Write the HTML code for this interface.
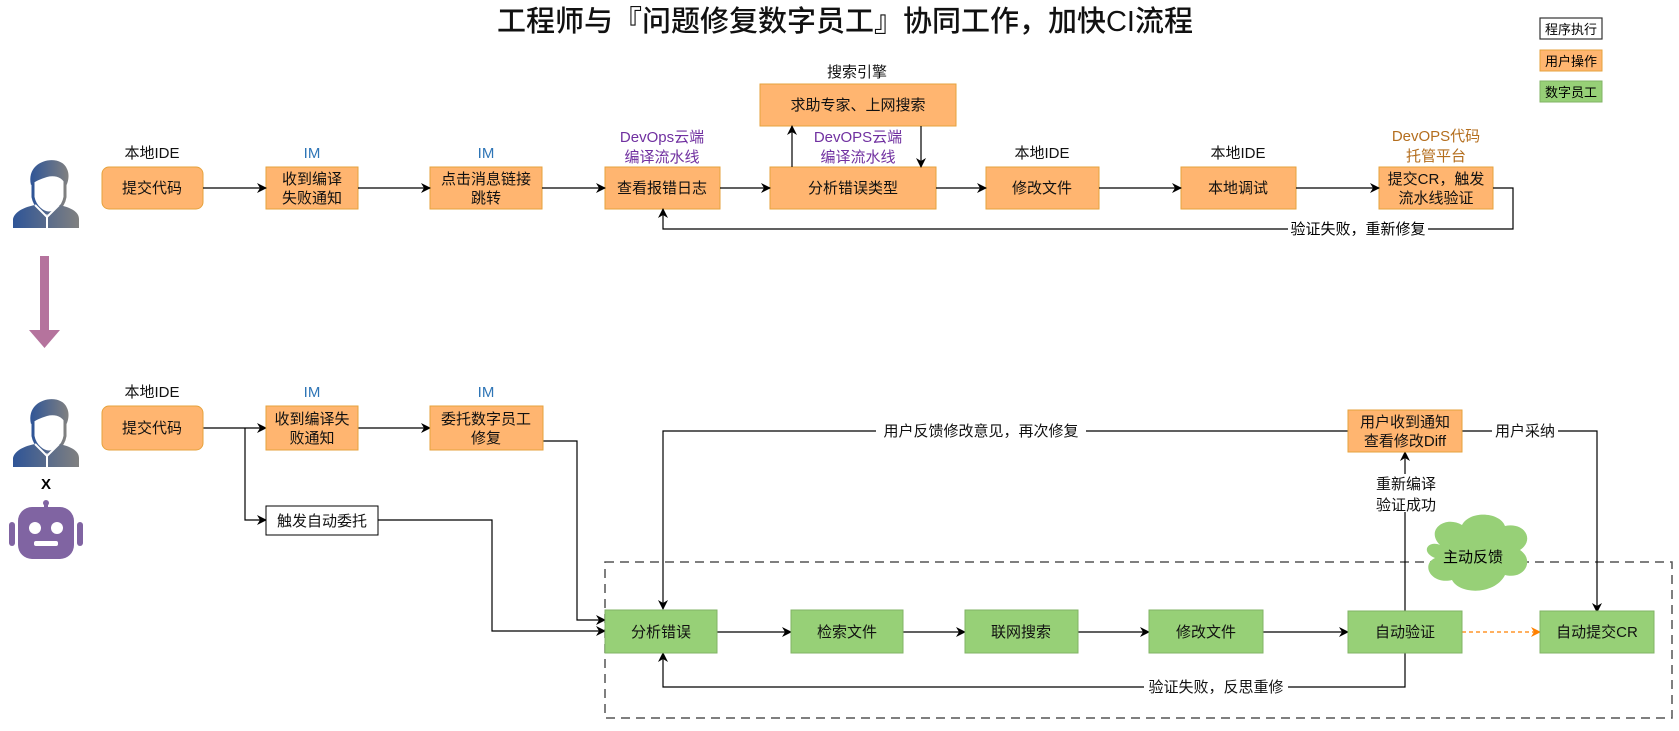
<!DOCTYPE html>
<html><head><meta charset="utf-8"><style>
html,body{margin:0;padding:0;background:#fff;}
svg text{font-family:"Liberation Sans","Noto Sans CJK SC",sans-serif;}
</style></head><body>
<svg width="1679" height="726" viewBox="0 0 1679 726" xmlns="http://www.w3.org/2000/svg">
<defs>
<marker id="a" markerWidth="10" markerHeight="10" refX="9" refY="5" orient="auto" markerUnits="userSpaceOnUse"><path d="M0,0 L10,5 L0,10 L3,5 z" fill="#000"/></marker>
<marker id="ao" markerWidth="10" markerHeight="10" refX="9" refY="5" orient="auto" markerUnits="userSpaceOnUse"><path d="M0,0 L10,5 L0,10 L3,5 z" fill="#ff8000"/></marker>
<linearGradient id="pg" x1="0" x2="1" y1="0" y2="0"><stop offset="0" stop-color="#2f5597"/><stop offset="1" stop-color="#808080"/></linearGradient>
<g id="person">
<path d="M22,30 C20,14 48,8 54,22 L54,44 C52,56 42,60 38,60 C32,60 24,54 22,44 Z" fill="#fff" stroke="url(#pg)" stroke-width="3"/>
<path d="M20,32 C14,6 50,0 56,16 C59,22 57,30 55,33 C52,24 44,22 36,24 C30,26 24,28 20,32 Z" fill="url(#pg)"/>
<path d="M2,75 L2,66 C4,58 14,54 24,52 L36,62 L48,52 C58,54 68,58 68,66 L68,75 Z" fill="url(#pg)"/>
<path d="M24,52 L36,64 L48,52" fill="none" stroke="#fff" stroke-width="2"/>
<line x1="36" y1="64" x2="36" y2="75" stroke="#fff" stroke-width="2"/>
</g>
</defs>

<text x="845" y="31" font-size="29" font-weight="500" text-anchor="middle" fill="#111">工程师与『问题修复数字员工』协同工作，加快CI流程</text>

<!-- legend -->
<rect x="1540" y="18" width="62" height="21" fill="#fff" stroke="#333" stroke-width="1.2"/>
<text x="1571" y="34" font-size="13" text-anchor="middle">程序执行</text>
<rect x="1540" y="50" width="62" height="21" fill="#ffb570" stroke="#e6a23c"/>
<text x="1571" y="66" font-size="13" text-anchor="middle">用户操作</text>
<rect x="1540" y="81" width="62" height="21" fill="#97d077" stroke="#82b366"/>
<text x="1571" y="97" font-size="13" text-anchor="middle">数字员工</text>

<!-- icons -->
<use href="#person" x="11" y="153"/>
<use href="#person" x="11" y="392"/>
<text x="46" y="489" font-size="15" font-weight="bold" text-anchor="middle">X</text>
<g fill="#8064a2">
<circle cx="46" cy="503" r="3"/>
<rect x="44" y="503" width="4" height="5"/>
<rect x="18" y="507" width="56" height="52" rx="14"/>
<rect x="9" y="522" width="6" height="24" rx="3"/>
<rect x="77" y="522" width="6" height="24" rx="3"/>
</g>
<circle cx="35" cy="528" r="6" fill="#fff"/><circle cx="57" cy="528" r="6" fill="#fff"/>
<rect x="34" y="541" width="24" height="5" rx="2" fill="#fff"/>

<!-- purple arrow -->
<rect x="40" y="256" width="9" height="76" fill="#b5739d"/>
<path d="M29,330 L60,330 L44.5,348 Z" fill="#b5739d"/>

<g font-size="15" text-anchor="middle" fill="#111">
<!-- top row labels -->
<text x="152" y="158">本地IDE</text>
<text x="312" y="158" fill="#2e75b6">IM</text>
<text x="486" y="158" fill="#2e75b6">IM</text>
<text x="662" y="142" fill="#7030a0">DevOps云端</text>
<text x="662" y="162" fill="#7030a0">编译流水线</text>
<text x="858" y="142" fill="#7030a0">DevOPS云端</text>
<text x="858" y="162" fill="#7030a0">编译流水线</text>
<text x="1042" y="158">本地IDE</text>
<text x="1238" y="158">本地IDE</text>
<text x="1436" y="141" fill="#b46e1e">DevOPS代码</text>
<text x="1436" y="161" fill="#b46e1e">托管平台</text>
<text x="857" y="77">搜索引擎</text>

<!-- top row boxes -->
<rect x="102" y="167" width="101" height="42" rx="7" fill="#ffb570" stroke="#e6a23c"/>
<text x="152" y="193">提交代码</text>
<rect x="266" y="167" width="92" height="42" fill="#ffb570" stroke="#e6a23c"/>
<text x="312" y="184">收到编译</text><text x="312" y="203">失败通知</text>
<rect x="430" y="167" width="112" height="42" fill="#ffb570" stroke="#e6a23c"/>
<text x="486" y="184">点击消息链接</text><text x="486" y="203">跳转</text>
<rect x="605" y="167" width="115" height="42" fill="#ffb570" stroke="#e6a23c"/>
<text x="662" y="193">查看报错日志</text>
<rect x="770" y="167" width="166" height="42" fill="#ffb570" stroke="#e6a23c"/>
<text x="853" y="193">分析错误类型</text>
<rect x="760" y="84" width="196" height="42" fill="#ffb570" stroke="#e6a23c"/>
<text x="858" y="110">求助专家、上网搜索</text>
<rect x="986" y="167" width="113" height="42" fill="#ffb570" stroke="#e6a23c"/>
<text x="1042" y="193">修改文件</text>
<rect x="1181" y="167" width="115" height="42" fill="#ffb570" stroke="#e6a23c"/>
<text x="1238" y="193">本地调试</text>
<rect x="1379" y="167" width="114" height="42" fill="#ffb570" stroke="#e6a23c"/>
<text x="1436" y="184">提交CR，触发</text><text x="1436" y="203">流水线验证</text>
</g>

<g stroke="#000" stroke-width="1.2" fill="none">
<line x1="203" y1="188" x2="266" y2="188" marker-end="url(#a)"/>
<line x1="358" y1="188" x2="430" y2="188" marker-end="url(#a)"/>
<line x1="542" y1="188" x2="605" y2="188" marker-end="url(#a)"/>
<line x1="720" y1="188" x2="770" y2="188" marker-end="url(#a)"/>
<line x1="936" y1="188" x2="986" y2="188" marker-end="url(#a)"/>
<line x1="1099" y1="188" x2="1181" y2="188" marker-end="url(#a)"/>
<line x1="1296" y1="188" x2="1379" y2="188" marker-end="url(#a)"/>
<line x1="792" y1="167" x2="792" y2="126" marker-end="url(#a)"/>
<line x1="921" y1="126" x2="921" y2="167" marker-end="url(#a)"/>
<polyline points="1493,188 1513,188 1513,229 663,229 663,209" marker-end="url(#a)"/>
</g>
<rect x="1288" y="221" width="140" height="16" fill="#fff"/>
<text x="1358" y="234" font-size="15" text-anchor="middle">验证失败，重新修复</text>

<!-- bottom -->
<rect x="605" y="562" width="1067" height="156" fill="none" stroke="#555" stroke-width="1.5" stroke-dasharray="9,6"/>

<g stroke="#000" stroke-width="1.2" fill="none">
<line x1="203" y1="428" x2="266" y2="428" marker-end="url(#a)"/>
<polyline points="245,428 245,520 266,520" marker-end="url(#a)"/>
<line x1="358" y1="428" x2="430" y2="428" marker-end="url(#a)"/>
<polyline points="543,441 577,441 577,620 605,620" marker-end="url(#a)"/>
<polyline points="378,520 492,520 492,631 605,631" marker-end="url(#a)"/>
<line x1="717" y1="632" x2="791" y2="632" marker-end="url(#a)"/>
<line x1="903" y1="632" x2="965" y2="632" marker-end="url(#a)"/>
<line x1="1078" y1="632" x2="1149" y2="632" marker-end="url(#a)"/>
<line x1="1263" y1="632" x2="1348" y2="632" marker-end="url(#a)"/>
<polyline points="1405,653 1405,687 663,687 663,653" marker-end="url(#a)"/>
<line x1="1405" y1="612" x2="1405" y2="452" marker-end="url(#a)"/>
<polyline points="1348,431 663,431 663,609" marker-end="url(#a)"/>
<polyline points="1462,431 1597,431 1597,612" marker-end="url(#a)"/>
</g>
<line x1="1462" y1="632" x2="1540" y2="632" stroke="#ff8000" stroke-width="1.2" stroke-dasharray="4,3" marker-end="url(#ao)"/>

<path d="M1440,545 C1425,530 1445,515 1462,525 C1470,510 1500,512 1505,526 C1525,522 1535,540 1520,550 C1535,560 1525,580 1505,575 C1495,595 1460,595 1452,580 C1432,585 1420,565 1435,558 C1420,552 1428,540 1440,545 Z" fill="#97d077"/>
<text x="1473" y="562" font-size="15" text-anchor="middle">主动反馈</text>

<g font-size="15" text-anchor="middle" fill="#111">
<text x="152" y="397">本地IDE</text>
<text x="312" y="397" fill="#2e75b6">IM</text>
<text x="486" y="397" fill="#2e75b6">IM</text>
<rect x="102" y="406" width="101" height="44" rx="7" fill="#ffb570" stroke="#e6a23c"/>
<text x="152" y="433">提交代码</text>
<rect x="266" y="406" width="92" height="44" fill="#ffb570" stroke="#e6a23c"/>
<text x="312" y="424">收到编译失</text><text x="312" y="443">败通知</text>
<rect x="430" y="406" width="113" height="44" fill="#ffb570" stroke="#e6a23c"/>
<text x="486" y="424">委托数字员工</text><text x="486" y="443">修复</text>
<rect x="266" y="506" width="112" height="29" fill="#fff" stroke="#000"/>
<text x="322" y="526">触发自动委托</text>

<rect x="605" y="610" width="112" height="43" fill="#97d077" stroke="#82b366"/>
<text x="661" y="637">分析错误</text>
<rect x="791" y="610" width="112" height="43" fill="#97d077" stroke="#82b366"/>
<text x="847" y="637">检索文件</text>
<rect x="965" y="610" width="113" height="43" fill="#97d077" stroke="#82b366"/>
<text x="1021" y="637">联网搜索</text>
<rect x="1149" y="610" width="114" height="43" fill="#97d077" stroke="#82b366"/>
<text x="1206" y="637">修改文件</text>
<rect x="1348" y="611" width="114" height="42" fill="#97d077" stroke="#82b366"/>
<text x="1405" y="637">自动验证</text>
<rect x="1540" y="611" width="114" height="42" fill="#97d077" stroke="#82b366"/>
<text x="1597" y="637">自动提交CR</text>

<rect x="1348" y="410" width="114" height="42" fill="#ffb570" stroke="#e6a23c"/>
<text x="1405" y="427">用户收到通知</text><text x="1405" y="446">查看修改Diff</text>

<rect x="1368" y="474" width="76" height="38" fill="#fff"/>
<text x="1406" y="489">重新编译</text><text x="1406" y="510">验证成功</text>
<rect x="1492" y="423" width="66" height="16" fill="#fff"/>
<text x="1525" y="436">用户采纳</text>
<rect x="876" y="423" width="210" height="16" fill="#fff"/>
<text x="981" y="436">用户反馈修改意见，再次修复</text>
<rect x="1144" y="679" width="144" height="16" fill="#fff"/>
<text x="1216" y="692">验证失败，反思重修</text>
</g>
</svg>
</body></html>
